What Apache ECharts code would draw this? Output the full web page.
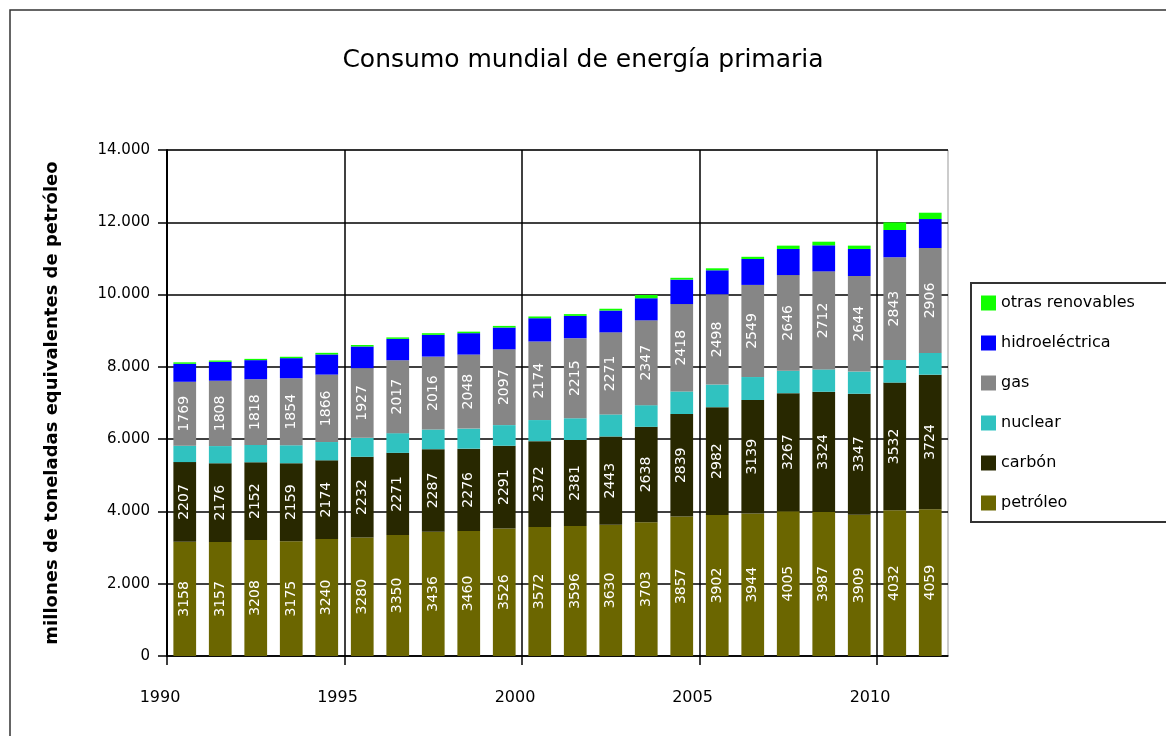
<!DOCTYPE html>
<html><head><meta charset="utf-8">
<script src="https://cdn.jsdelivr.net/npm/echarts@6/dist/echarts.min.js"></script>
<style>html,body{margin:0;padding:0;background:#fff}#c{width:1166px;height:736px}</style>
</head><body><div id="c"></div>
<script>
const years = ['1990','1991','1992','1993','1994','1995','1996','1997','1998','1999','2000','2001','2002','2003','2004','2005','2006','2007','2008','2009','2010','2011'];
const petroleo = [3158,3157,3208,3175,3240,3280,3350,3436,3460,3526,3572,3596,3630,3703,3857,3902,3944,4005,3987,3909,4032,4059];
const carbon = [2207,2176,2152,2159,2174,2232,2271,2287,2276,2291,2372,2381,2443,2638,2839,2982,3139,3267,3324,3347,3532,3724];
const nuclear = [453,475,480,497,506,526,545,544,556,571,584,601,611,599,624,627,635,622,619,614,626,600];
const gas = [1769,1808,1818,1854,1866,1927,2017,2016,2048,2097,2174,2215,2271,2347,2418,2498,2549,2646,2712,2644,2843,2906];
const hidro = [498,524,528,556,557,599,592,603,592,603,644,618,603,612,676,663,718,722,721,748,753,801];
const otras = [40,35,35,38,45,40,40,45,42,45,48,48,50,90,50,55,60,92,100,92,210,175];
const yearTicks = [1990,1995,2000,2005,2010];
const yTicks = [0,2000,4000,6000,8000,10000,12000,14000];

const FONT = 'DejaVu Sans';
const chart = echarts.init(document.getElementById('c'), null, {renderer:'canvas'});
const lbl = {show:true, position:'inside', rotate:90, color:'#fff', fontSize:14, fontFamily:FONT};
function mk(name, data, color, label){
  return {name, type:'bar', stack:'t', data, xAxisIndex:0, yAxisIndex:0,
    barCategoryGap:'36%', itemStyle:{color}, label: label ? lbl : {show:false},
    emphasis:{disabled:true}, animation:false};
}
chart.setOption({
  animation:false,
  backgroundColor:'#fff',
  textStyle:{fontFamily:FONT},
  title:{text:'Consumo mundial de energía primaria', left:'center', top:43,
    textStyle:{fontFamily:FONT, fontSize:25, fontWeight:'normal', color:'#000'}},
  grid:{left:167, right:218, top:150, bottom:80, show:true, borderColor:'#999', borderWidth:1},
  legend:{orient:'vertical', left:976, top:290, itemWidth:15, itemHeight:15, itemGap:24,
    data:['otras renovables','hidroeléctrica','gas','nuclear','carbón','petróleo'],
    textStyle:{fontFamily:FONT, fontSize:16, color:'#000'}, icon:'rect', selectedMode:false},
  graphic:[
    {type:'rect', shape:{x:10, y:10, width:1300, height:900}, style:{fill:'none', stroke:'#333', lineWidth:1.5}, silent:true},
    {type:'rect', shape:{x:971, y:283, width:260, height:239}, style:{fill:'none', stroke:'#333', lineWidth:2}, silent:true}
  ],
  xAxis:[
    {type:'category', data:years, show:false},
    {type:'value', min:1990, max:2012, interval:5, position:'bottom',
      axisLine:{show:true, lineStyle:{color:'#000', width:1.5}},
      axisTick:{show:true, length:9, lineStyle:{color:'#000', width:1.5}, customValues:yearTicks},
      axisLabel:{show:true, margin:34, fontSize:16, color:'#000', fontFamily:FONT, customValues:yearTicks,
        padding:[0,14,0,0], formatter:v => yearTicks.includes(v) ? String(v) : ''},
      splitLine:{show:true, lineStyle:{color:['#000','#000','#000','#000','#000','#999'], width:1.5}}}
  ],
  yAxis:{type:'value', min:0, max:14000, interval:2000,
    name:'millones de toneladas equivalentes de petróleo', nameLocation:'middle', nameGap:106,
    nameTextStyle:{fontFamily:FONT, fontSize:18, fontWeight:'bold', color:'#000'},
    axisLine:{show:true, lineStyle:{color:'#000', width:2}},
    axisTick:{show:true, length:9, lineStyle:{color:'#000', width:1.5}},
    axisLabel:{margin:17, fontSize:15, color:'#000', fontFamily:FONT,
      formatter:v => v === 0 ? '0' : (v/1000).toFixed(3)},
    splitLine:{show:true, lineStyle:{color:'#000', width:1.5}}},
  series:[
    mk('petróleo', petroleo, '#6b6600', true),
    mk('carbón', carbon, '#282800', true),
    mk('nuclear', nuclear, '#30c2c0', false),
    mk('gas', gas, '#868686', true),
    mk('hidroeléctrica', hidro, '#0000ff', false),
    mk('otras renovables', otras, '#11ff00', false)
  ]
});
</script></body></html>
